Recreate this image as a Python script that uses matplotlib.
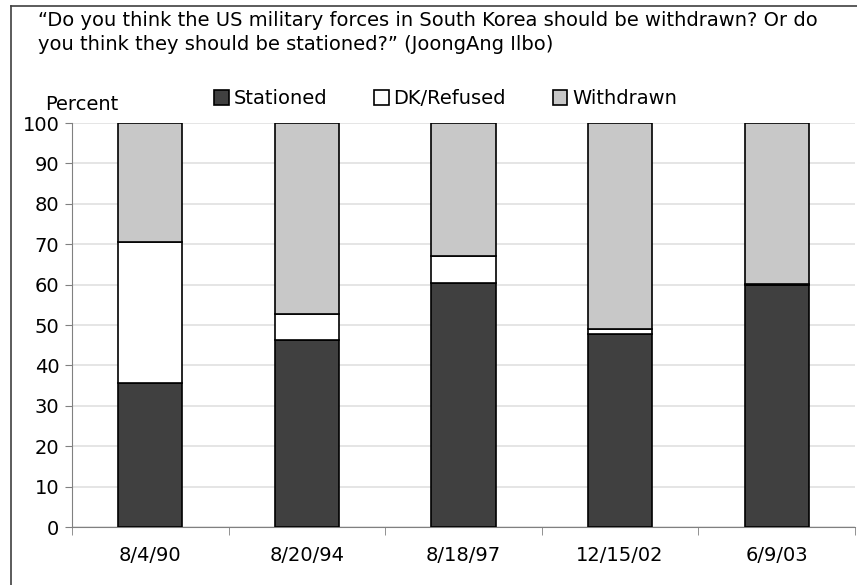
import numpy as np
import matplotlib.pyplot as plt
from matplotlib.lines import Line2D

dates = ["8/4/90", "8/20/94", "8/18/97", "12/15/02", "6/9/03"]
stationed = [35.6, 46.3, 60.5, 47.9, 59.8]
dk_refused = [34.9, 6.4, 6.7, 1.0, 0.3]
withdrawn = [29.5, 47.3, 32.8, 51.1, 39.9]

plt.rcParams['font.family'] = ['DejaVu Sans']
fs = 14

fig = plt.figure(figsize=(8.57, 5.85), dpi=100)
ax = fig.add_axes([0.084, 0.0991, 0.9137, 0.6906])

x = np.arange(len(dates))
w = 0.41
st = np.array(stationed)
dk = np.array(dk_refused)
wd = np.array(withdrawn)

ax.bar(x, st, w, color='#404040', edgecolor='black', linewidth=1.2, label='Stationed', zorder=3)
ax.bar(x, dk, w, bottom=st, color='white', edgecolor='black', linewidth=1.2, label='DK/Refused', zorder=3)
ax.bar(x, wd, w, bottom=st + dk, color='#c8c8c8', edgecolor='black', linewidth=1.2, label='Withdrawn', zorder=3)

ax.set_xlim(-0.5, len(dates) - 0.5)
ax.set_ylim(0, 100)
ax.set_yticks(range(0, 101, 10))
ax.set_xticks(x)
ax.set_xticklabels(dates, fontsize=fs)
ax.set_xticks(np.arange(-0.5, len(dates), 1), minor=True)
ax.tick_params(axis='x', which='major', length=0, pad=14)
ax.tick_params(axis='x', which='minor', length=6, direction='out', color='#808080')
ax.tick_params(axis='y', labelsize=fs, length=5, color='#808080', pad=4)
ax.yaxis.grid(True, color='#e0e0e0', linewidth=1.2, zorder=0)
ax.set_axisbelow(True)
for s in ['top', 'right']:
    ax.spines[s].set_visible(False)
ax.spines['left'].set_color('#808080')
ax.spines['bottom'].set_color('#808080')

fig.text(0.0525, 0.822, 'Percent', fontsize=fs, va='center')
fig.text(0.044, 0.982,
         '\u201cDo you think the US military forces in South Korea should be withdrawn? Or do\n'
         'you think they should be stationed?\u201d (JoongAng Ilbo)',
         fontsize=fs, va='top', linespacing=1.38)

fig.legend(loc='center', bbox_to_anchor=(0.52, 0.831), ncol=3, frameon=False,
           fontsize=fs, handlelength=0.75, handleheight=0.75, handletextpad=0.25,
           columnspacing=2.4)

# outer frame
fig.add_artist(Line2D([0.0128, 0.0128], [0.0, 0.99], color='#404040', linewidth=1.2))
fig.add_artist(Line2D([0.0128, 1.0], [0.99, 0.99], color='#404040', linewidth=1.2))

fig.savefig('out.png', dpi=100)
